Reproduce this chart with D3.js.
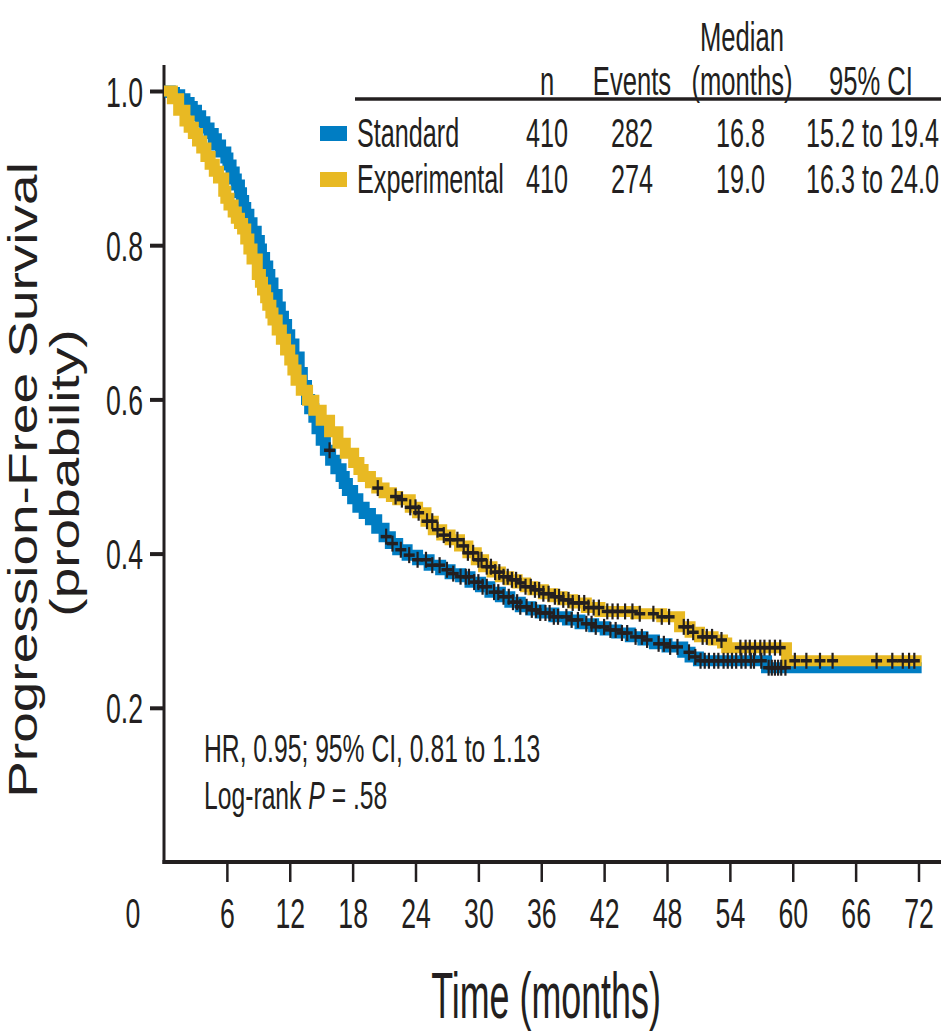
<!DOCTYPE html>
<html>
<head>
<meta charset="utf-8">
<script src="https://cdn.jsdelivr.net/npm/d3@7"></script>
<style>
  body { margin: 0; background: #fff; }
  svg { display: block; }
  text { font-family: 'Liberation Sans', Arial, sans-serif; fill: #231f20; }
</style>
</head>
<body>
<svg id="km" width="941" height="1032"></svg>
<script>
// time (months) where the step starts, and survival from that point on
var stdTime = [0, 0.6, 1.0, 1.5, 2.0, 2.4, 2.7, 3.1, 3.5, 3.9, 4.3, 4.7, 5.0, 5.4, 5.9, 6.1, 6.4, 6.7, 6.9, 7.2, 7.4, 7.6, 7.8, 8.1, 8.4, 8.8, 9.1, 9.3, 9.6, 9.9, 10.1, 10.4, 10.8, 11.1, 11.4, 11.7, 12.0, 12.4, 12.9, 13.2, 13.6, 13.9, 14.3, 14.6, 15.0, 15.4, 15.9, 16.4, 16.9, 17.2, 17.5, 18.0, 18.5, 19.1, 19.7, 20.3, 21.0, 21.6, 22.3, 23.2, 24.2, 25.3, 26.4, 27.3, 28.3, 29.2, 30.2, 31.1, 32.1, 33.0, 34.0, 35.0, 35.9, 37.2, 38.5, 39.7, 41.0, 42.1, 43.2, 44.5, 45.7, 46.8, 48.0, 49.5, 50.2, 51.0, 57.5];
var stdSurv = [1.0, 0.998, 0.995, 0.99, 0.985, 0.98, 0.975, 0.968, 0.96, 0.952, 0.945, 0.938, 0.93, 0.921, 0.913, 0.904, 0.895, 0.886, 0.878, 0.868, 0.858, 0.849, 0.84, 0.829, 0.818, 0.806, 0.795, 0.784, 0.773, 0.762, 0.751, 0.736, 0.72, 0.708, 0.697, 0.684, 0.672, 0.655, 0.635, 0.618, 0.60, 0.588, 0.577, 0.562, 0.547, 0.534, 0.521, 0.51, 0.50, 0.491, 0.482, 0.471, 0.46, 0.452, 0.444, 0.433, 0.422, 0.413, 0.405, 0.398, 0.392, 0.385, 0.379, 0.374, 0.37, 0.363, 0.357, 0.35, 0.344, 0.337, 0.331, 0.327, 0.323, 0.318, 0.314, 0.309, 0.305, 0.301, 0.297, 0.292, 0.288, 0.283, 0.279, 0.272, 0.266, 0.261, 0.252];
var expTime = [0, 0.8, 1.4, 2.0, 2.4, 2.8, 3.2, 3.6, 4.0, 4.4, 4.8, 5.2, 5.7, 5.9, 6.2, 6.6, 6.9, 7.2, 7.5, 7.8, 8.1, 8.4, 8.9, 9.2, 9.4, 9.7, 9.9, 10.2, 10.4, 10.8, 11.2, 11.6, 12.0, 12.3, 12.6, 13.1, 13.7, 14.3, 15.0, 15.8, 16.6, 17.3, 18.1, 18.6, 19.0, 19.7, 20.3, 21.0, 21.7, 22.3, 23.5, 24.2, 25.0, 25.7, 26.5, 27.3, 28.2, 29.0, 29.8, 30.5, 31.3, 32.1, 32.9, 33.7, 34.5, 35.2, 36.2, 37.1, 38.0, 39.0, 40.3, 41.6, 45.0, 47.5, 49.2, 50.2, 51.1, 52.4, 53.3, 53.7, 59.4];
var expSurv = [1.0, 0.99, 0.975, 0.961, 0.953, 0.945, 0.935, 0.926, 0.915, 0.905, 0.896, 0.887, 0.87, 0.861, 0.852, 0.843, 0.835, 0.828, 0.821, 0.808, 0.795, 0.782, 0.762, 0.752, 0.742, 0.732, 0.722, 0.712, 0.703, 0.69, 0.678, 0.664, 0.651, 0.638, 0.625, 0.612, 0.599, 0.586, 0.573, 0.558, 0.543, 0.53, 0.518, 0.509, 0.50, 0.492, 0.485, 0.479, 0.474, 0.47, 0.46, 0.453, 0.442, 0.431, 0.424, 0.418, 0.41, 0.401, 0.392, 0.383, 0.376, 0.37, 0.366, 0.362, 0.357, 0.353, 0.348, 0.344, 0.34, 0.336, 0.33, 0.325, 0.322, 0.318, 0.305, 0.298, 0.292, 0.288, 0.284, 0.278, 0.261];
var lastTime = 72.3;

// censored observations (months)
var stdCensor = [15.8, 21.2, 21.8, 22.6, 23.4, 24.2, 25.0, 25.6, 26.3, 27.0, 27.6, 28.3, 28.8, 29.1, 29.6, 30.0, 30.4, 30.8, 31.5, 31.9, 32.4, 32.9, 33.3, 33.7, 34.0, 34.6, 35.1, 35.5, 35.9, 36.4, 36.8, 37.2, 37.6, 38.4, 38.9, 39.5, 40.3, 40.8, 41.2, 42.0, 42.6, 43.1, 43.7, 44.2, 45.0, 45.6, 46.1, 47.2, 47.7, 48.3, 49.0, 50.1, 50.7, 51.2, 51.6, 52.0, 52.5, 52.9, 53.4, 53.8, 54.2, 54.6, 55.1, 55.5, 56.0, 56.3, 57.0, 57.7, 58.0, 58.3, 58.6, 58.9, 59.3];
var expCensor = [20.4, 22.1, 22.7, 23.5, 24.0, 24.3, 25.1, 25.6, 26.1, 26.7, 27.3, 28.0, 28.6, 29.0, 29.5, 30.0, 30.3, 30.8, 31.2, 31.6, 32.0, 32.4, 32.8, 33.2, 33.6, 34.0, 34.5, 35.0, 35.4, 35.8, 36.2, 36.7, 37.3, 37.7, 38.1, 38.6, 39.0, 39.6, 40.1, 40.5, 41.0, 41.5, 42.3, 42.8, 43.3, 44.0, 44.7, 45.4, 46.7, 47.5, 48.2, 49.6, 50.0, 50.5, 51.4, 51.8, 52.3, 53.2, 55.0, 55.5, 55.9, 56.4, 56.9, 57.3, 57.8, 58.3, 58.8, 60.2, 61.3, 62.6, 63.8, 68.0, 69.5, 70.5, 71.1, 71.6];

var xTicks = [0, 6, 12, 18, 24, 30, 36, 42, 48, 54, 60, 66, 72];
var yTicks = [0.2, 0.4, 0.6, 0.8, 1.0];

var groups = ["Standard", "Experimental"];
var colors = ["#007dc3", "#e8b923"];
var nVals = ["410", "410"];
var eventVals = ["282", "274"];
var medianVals = ["16.8", "19.0"];
var ciVals = ["15.2 to 19.4", "16.3 to 24.0"];

var svg = d3.select("#km");

var x = d3.scaleLinear().domain([0, 72]).range([164, 918.5]);
var y = d3.scaleLinear().domain([0, 1]).range([862, 91]);

// text is condensed horizontally like the source figure
function label(g, px, py, str, size, sx, anchor, rot) {
    var t = g.append("text")
        .attr("transform", "translate(" + px + "," + py + ") scale(" + sx + ",1)" + (rot ? " rotate(-90)" : ""))
        .attr("text-anchor", anchor || "start")
        .style("font-size", size + "px")
        .text(str);
    return t;
}

function toSteps(times, surv) {
    var pts = times.map(function (t, i) { return {t: t, s: surv[i]}; });
    pts.push({t: lastTime, s: surv[surv.length - 1]});
    return pts;
}

function survAt(times, surv, t) {
    var i = d3.bisectRight(times, t) - 1;
    return surv[Math.max(0, i)];
}

// axes
var yAxis = svg.append("g")
    .attr("transform", "translate(" + x(0) + ",0)")
    .call(d3.axisLeft(y).tickValues(yTicks).tickSize(14).tickFormat(d3.format(".1f")));
yAxis.select(".domain").remove();
yAxis.selectAll(".tick line").attr("stroke", "#231f20").attr("stroke-width", 4);
yAxis.selectAll(".tick text")
    .attr("x", null).attr("dy", null)
    .attr("transform", "translate(-21,15) scale(0.62,1)")
    .style("font-size", "43px")
    .style("font-family", "'Liberation Sans', Arial, sans-serif")
    .attr("fill", "#231f20");

var xAxis = svg.append("g")
    .attr("transform", "translate(0," + y(0) + ")")
    .call(d3.axisBottom(x).tickValues(xTicks.slice(1)).tickSize(20));
xAxis.select(".domain").remove();
xAxis.selectAll(".tick line").attr("stroke", "#231f20").attr("stroke-width", 2.5);
xAxis.selectAll(".tick text")
    .attr("y", null).attr("dy", null)
    .attr("transform", "translate(0,66) scale(0.62,1)")
    .style("font-size", "43px")
    .style("font-family", "'Liberation Sans', Arial, sans-serif")
    .attr("fill", "#231f20");
// the 0 label sits left of the axis corner
label(svg, x(xTicks[0]) - 31, y(0) + 66, String(xTicks[0]), 43, 0.62, "middle");

svg.append("line")
    .attr("x1", x(0)).attr("x2", x(0))
    .attr("y1", 65).attr("y2", y(0) + 2)
    .attr("stroke", "#231f20").attr("stroke-width", 3);
svg.append("line")
    .attr("x1", x(0) - 1.5).attr("x2", 941)
    .attr("y1", y(0)).attr("y2", y(0))
    .attr("stroke", "#231f20").attr("stroke-width", 4);

// curves
var line = d3.line()
    .x(function (d) { return x(d.t); })
    .y(function (d) { return y(d.s); })
    .curve(d3.curveStepAfter);

svg.append("path")
    .datum(toSteps(stdTime, stdSurv))
    .attr("d", line)
    .attr("fill", "none")
    .attr("stroke", colors[0])
    .attr("stroke-width", 11);
svg.append("path")
    .datum(toSteps(expTime, expSurv))
    .attr("d", line)
    .attr("fill", "none")
    .attr("stroke", colors[1])
    .attr("stroke-width", 11);

// censor marks
function censorMarks(times, surv, cens) {
    var g = svg.append("g").attr("stroke", "#231f20");
    cens.forEach(function (t) {
        var cx = x(t), cy = y(survAt(times, surv, t));
        g.append("line").attr("x1", cx - 5.5).attr("x2", cx + 5.5).attr("y1", cy).attr("y2", cy).attr("stroke-width", 3.5);
        g.append("line").attr("x1", cx).attr("x2", cx).attr("y1", cy - 8).attr("y2", cy + 8).attr("stroke-width", 2.2);
    });
}
censorMarks(stdTime, stdSurv, stdCensor);
censorMarks(expTime, expSurv, expCensor);

// axis titles
label(svg, 37, 480, "Progression-Free Survival", 55, 0.74, "middle", true);
label(svg, 79, 473, "(probability)", 55, 0.74, "middle", true);
label(svg, 546, 1018, "Time (months)", 64, 0.56, "middle");

// legend table
var lg = svg.append("g");
label(lg, 742, 51, "Median", 40, 0.64, "middle");
label(lg, 547, 95, "n", 40, 0.64, "middle");
label(lg, 632, 95, "Events", 40, 0.64, "middle");
label(lg, 742, 95, "(months)", 40, 0.64, "middle");
label(lg, 871, 95, "95% CI", 40, 0.64, "middle");
lg.append("line")
    .attr("x1", 355).attr("x2", 941)
    .attr("y1", 99).attr("y2", 99)
    .attr("stroke", "#231f20").attr("stroke-width", 3.5);

var rowY = [147, 193];
groups.forEach(function (name, i) {
    lg.append("rect")
        .attr("x", 320).attr("y", rowY[i] - 21)
        .attr("width", 27).attr("height", 15)
        .attr("fill", colors[i]);
    label(lg, 357, rowY[i], name, 40, 0.63, "start");
    label(lg, 547, rowY[i], nVals[i], 40, 0.63, "middle");
    label(lg, 632, rowY[i], eventVals[i], 40, 0.63, "middle");
    label(lg, 765, rowY[i], medianVals[i], 40, 0.63, "end");
    label(lg, 939, rowY[i], ciVals[i], 40, 0.63, "end");
});

// statistics
label(svg, 204, 762, "HR, 0.95; 95% CI, 0.81 to 1.13", 38, 0.65, "start");
var lr = label(svg, 204, 809, "Log-rank ", 38, 0.65, "start");
lr.append("tspan").style("font-style", "italic").text("P");
lr.append("tspan").text(" = .58");
</script>
</body>
</html>
